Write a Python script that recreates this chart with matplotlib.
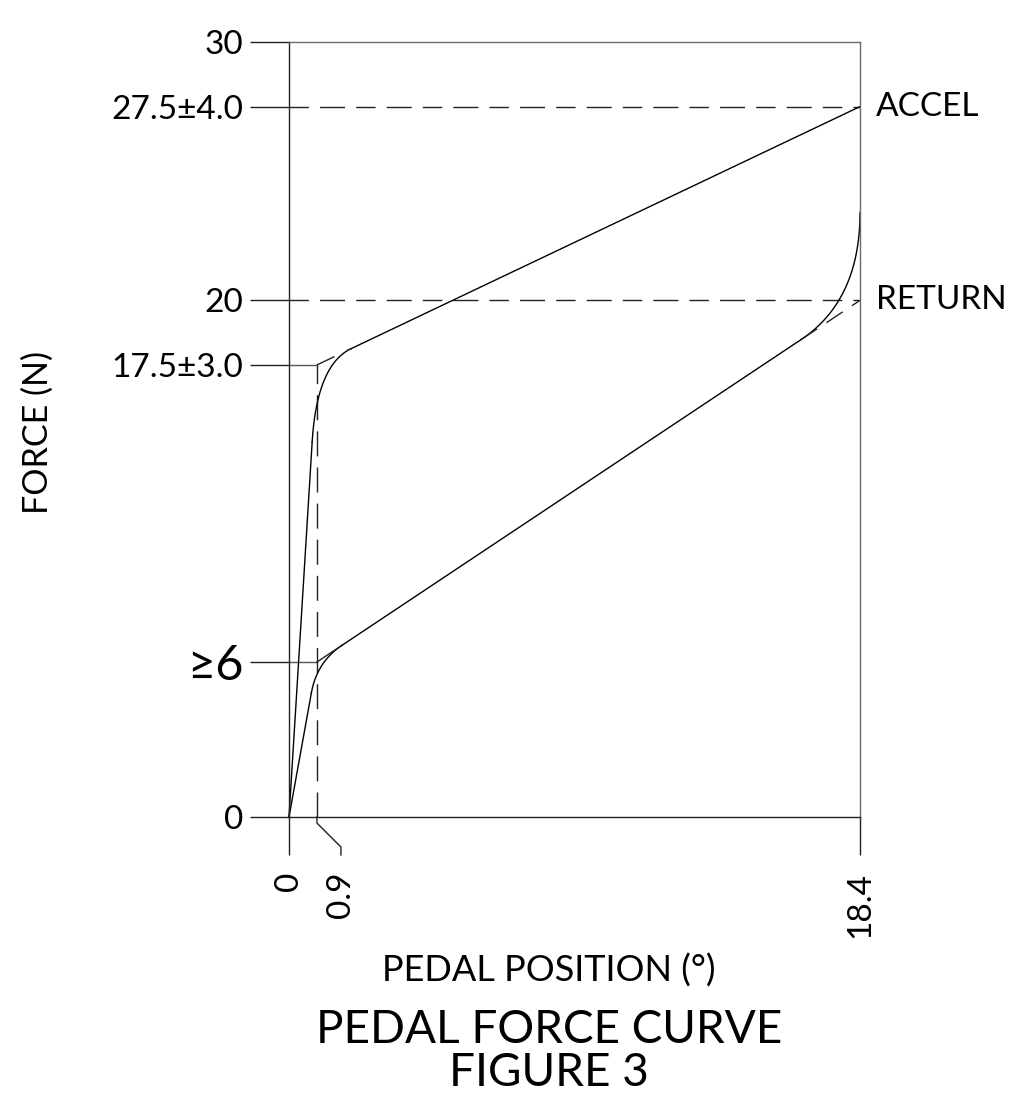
import matplotlib
matplotlib.use("Agg")
import matplotlib.pyplot as plt
import numpy as np
from matplotlib.transforms import offset_copy

W, H, DPI = 1013, 1099, 100
FONT = ["Lato", "DejaVu Sans"]
plt.rcParams["font.family"] = FONT

# ---------------- data ----------------
x_ticks = [0, 18.4]
x_tick_labels = ["0", "18.4"]
x_mid_tick = 0.9
x_mid_label = "0.9"
y_ticks = [0, 6, 17.5, 20, 27.5, 30]
y_tick_labels = ["0", "≥6", "17.5±3.0", "20", "27.5±4.0", "30"]

# ACCEL (upper) characteristic: corner points
accel_pos = [0.0, 0.9, 18.4]
accel_force = [0.0, 17.5, 27.5]
# RETURN (lower) characteristic: corner points
return_pos = [0.0, 0.9, 18.4]
return_force = [0.0, 6.0, 20.0]
return_end_force = 23.4          # force where return curve meets 18.4 deg

# fillet extents (fraction along ramp, position on slope)
accel_fillet = (0.83, 2.0)
return_fillet = (0.80, 1.7)
return_knee_pos = 16.5

curve_labels = ["ACCEL", "RETURN"]

# ---------------- helpers ----------------
def qbez(p0, c, p2, n=60):
    t = np.linspace(0, 1, n)[:, None]
    p0, c, p2 = map(np.asarray, (p0, c, p2))
    pts = (1 - t) ** 2 * p0 + 2 * (1 - t) * t * c + t ** 2 * p2
    return pts[:, 0], pts[:, 1]

def on_line(p, q, x):
    return p[1] + (q[1] - p[1]) * (x - p[0]) / (q[0] - p[0])

fig = plt.figure(figsize=(W / DPI, H / DPI), dpi=DPI)
ax = fig.add_axes([289 / W, (H - 817) / H, 571 / W, 775 / H])
ax.set_xlim(0, 18.4)
ax.set_ylim(0, 30)

LW = 1.0
DARK = "#222222"
GRAY = "#6a6a6a"
DASH = (18, 8)
px = 72 / DPI
TICK_FS = 24

for s in ["left", "bottom"]:
    ax.spines[s].set_color(DARK)
    ax.spines[s].set_linewidth(LW)
for s in ["top", "right"]:
    ax.spines[s].set_color(GRAY)
    ax.spines[s].set_linewidth(LW)

# y ticks
ax.set_yticks(y_ticks)
ax.set_yticklabels(y_tick_labels)
ax.tick_params(axis="y", direction="out", length=28, width=LW, color=DARK,
               pad=5, labelsize=TICK_FS)
for t in ax.yaxis.get_ticklabels():
    if t.get_text().startswith("≥"):
        t.set_fontsize(35)

# x ticks
ax.set_xticks(x_ticks)
ax.set_xticklabels(x_tick_labels, rotation=90, va="top")
ax.tick_params(axis="x", direction="out", length=27.4, width=LW, color=DARK,
               pad=12, labelsize=TICK_FS)
ax.xaxis.get_major_ticks()[-1].tick1line.set_color(GRAY)

# horizontal dashed reference lines (27.5 and 20)
for yv in (accel_force[-1], return_force[-1]):
    ln, = ax.plot([0, 18.4], [yv, yv], color=DARK, lw=LW, clip_on=False)
    ln.set_dashes((14, 8, 18, 8))
# short solid extension of 17.5 and 6 ticks to the 0.9 line
for yv in (accel_force[1], return_force[1]):
    ax.plot([0, x_mid_tick], [yv, yv], color="#555555", lw=LW, clip_on=False)

# vertical dashed line at 0.9
ax.plot([x_mid_tick, x_mid_tick], [0, accel_force[1]], color=DARK, lw=LW,
        dashes=DASH, clip_on=False)

# leader for 0.9 label (offsets in pixels below the axis)
lead = [(0, 0), (0, -6), (24, -30), (24, -38)]
base = ax.transData.transform((x_mid_tick, 0))
pts_disp = [(base[0] + dx, base[1] + dy) for dx, dy in lead]
pts_data = ax.transData.inverted().transform(pts_disp)
ax.plot(pts_data[:, 0], pts_data[:, 1], color=DARK, lw=LW, clip_on=False)
ax.text(pts_data[-1, 0], pts_data[-1, 1], x_mid_label, rotation=90,
        ha="center", va="top", fontsize=TICK_FS,
        transform=offset_copy(ax.transData, fig=fig, y=-17 * px, units="points"))

# ---------------- ACCEL curve ----------------
A0 = (accel_pos[0], accel_force[0])
A1 = (accel_pos[1], accel_force[1])
A2 = (accel_pos[2], accel_force[2])
fa, xa = accel_fillet
pa0 = (A0[0] + fa * (A1[0] - A0[0]), A0[1] + fa * (A1[1] - A0[1]))
pa2 = (xa, on_line(A1, A2, xa))
ax.plot([A0[0], pa0[0]], [A0[1], pa0[1]], color="black", lw=LW, clip_on=False)
bx, by = qbez(pa0, A1, pa2)
ax.plot(bx, by, color="black", lw=LW, clip_on=False)
ax.plot([pa2[0], A2[0]], [pa2[1], A2[1]], color="black", lw=LW, clip_on=False)
ax.plot([A1[0], pa2[0]], [A1[1], pa2[1]], color=DARK, lw=LW, dashes=(14, 10))

# ---------------- RETURN curve ----------------
R0 = (return_pos[0], return_force[0])
R1 = (return_pos[1], return_force[1])
R2 = (return_pos[2], return_force[2])
fr, xr = return_fillet
pr0 = (R0[0] + fr * (R1[0] - R0[0]), R0[1] + fr * (R1[1] - R0[1]))
pr2 = (xr, on_line(R1, R2, xr))
ax.plot([R0[0], pr0[0]], [R0[1], pr0[1]], color="black", lw=LW, clip_on=False)
bx, by = qbez(pr0, R1, pr2)
ax.plot(bx, by, color="black", lw=LW, clip_on=False)
ax.plot([R1[0], pr2[0]], [R1[1], pr2[1]], color=DARK, lw=LW)
knee = (return_knee_pos, on_line(R1, R2, return_knee_pos))
ax.plot([pr2[0], knee[0]], [pr2[1], knee[1]], color="black", lw=LW)
bx, by = qbez(knee, R2, (R2[0], return_end_force))
ax.plot(bx, by, color="black", lw=LW, clip_on=False)
ax.plot([knee[0], R2[0]], [knee[1], R2[1]], color=DARK, lw=LW, dashes=(14, 8))

# curve labels
for lab, yv in zip(curve_labels, (accel_force[-1], return_force[-1])):
    ax.annotate(lab, xy=(18.4, yv), xytext=(16 * px, 0),
                textcoords="offset points", ha="left", va="center",
                fontsize=24, annotation_clip=False)

# axis titles
fig.text(38 / W, 1 - 432 / H, "FORCE (N)", rotation=90, ha="center",
         va="center", fontsize=24.5)
fig.text(549 / W, 1 - 971 / H, "PEDAL POSITION (°)", ha="center",
         va="center", fontsize=26)
fig.text(549 / W, 1 - 1030 / H, "PEDAL FORCE CURVE", ha="center",
         va="center", fontsize=33)
fig.text(549 / W, 1 - 1073 / H, "FIGURE 3", ha="center",
         va="center", fontsize=33)

fig.savefig("out.png", dpi=DPI)
